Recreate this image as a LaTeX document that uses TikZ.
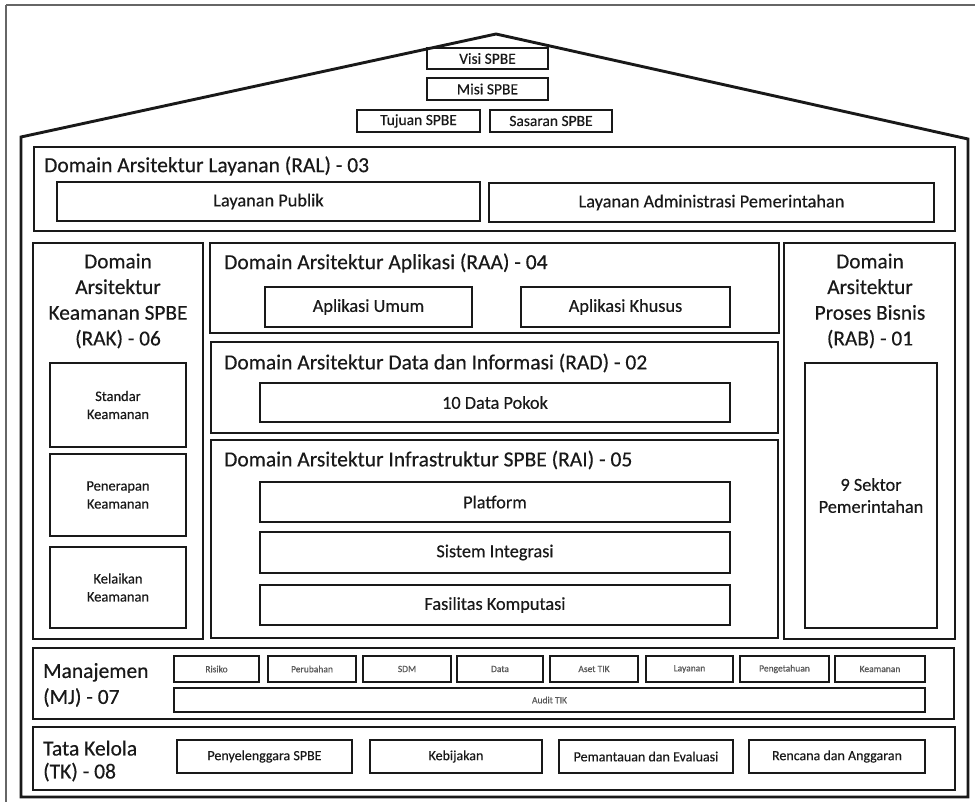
\documentclass[tikz,border=0pt]{standalone}
\usepackage{fontspec}
\setmainfont{Carlito}[FakeBold=0.35]
\newcommand{\fs}[2]{\fontsize{#1}{#2}\selectfont}
% box by its corners: name, x1, y1, x2, y2, style, text
\newcommand{\cornerbox}[7]{%
  \node[#6, minimum width={(#4-#2)*1pt}, minimum height={(#5-#3)*1pt}]
    (#1) at ({(#2+#4)/2},{(#3+#5)/2}) {#7};}
\begin{document}
\begin{tikzpicture}[x=1pt,y=-1pt,
  frameline/.style={draw=black!60, line width=1.8pt},
  houseline/.style={draw=black!90, line width=2.9pt, line join=miter},
  domainbox/.style={draw=black!90, line width=2.6pt, inner sep=0pt},
  itembox/.style={draw=black!90, line width=2.5pt, inner sep=0pt, align=center, text=black!90},
  roofitem/.style={itembox, font=\fs{15.5}{18}},
  mainitem/.style={itembox, font=\fs{18.3}{22}},
  smallitem/.style={itembox, font=\fs{14.5}{18}},
  mgmtitem/.style={itembox, line width=2.3pt, text=black!65, font=\fs{9.5}{12}},
  govitem/.style={itembox, font=\fs{14}{17}},
  domaintitle/.style={inner sep=0pt, anchor=west, text=black!90, font=\fs{21.5}{25}},
  coltitle/.style={inner sep=0pt, align=center, text=black!90, font=\fs{21.3}{25.7}},
]
\useasboundingbox (0,0) rectangle (975,802);
\fill[white] (0,0) rectangle (975,802);

% outer frame (top and left edge)
\draw[frameline] (6,5) -- (980,5);
\draw[frameline] (6,5) -- (6,810);

% house outline with roof
\draw[houseline] (21,797) -- (21,137) -- (496,34) -- (968,139) -- (968,797) -- cycle;

% roof: vision, mission, goals
\cornerbox{visi}{427}{48}{548}{69}{roofitem}{Visi SPBE}
\cornerbox{misi}{427}{78}{548}{100}{roofitem}{Misi SPBE}
\cornerbox{tujuan}{357}{110}{480}{132}{roofitem}{Tujuan SPBE}
\cornerbox{sasaran}{490}{110}{612}{132}{roofitem}{Sasaran SPBE}

% service domain
\cornerbox{ral}{34}{147}{955}{231}{domainbox}{}
\node[domaintitle] (raltitle) at (44,166) {Domain Arsitektur Layanan (RAL) - 03};
\cornerbox{publik}{57}{182}{480}{221}{mainitem}{Layanan Publik}
\cornerbox{admin}{489}{183}{934}{222}{mainitem}{Layanan Administrasi Pemerintahan}

% security domain (left column)
\cornerbox{rak}{33}{243}{203}{639}{domainbox}{}
\node[coltitle] (raktitle) at (118,301) {Domain\\Arsitektur\\Keamanan SPBE\\(RAK) - 06};
\cornerbox{standar}{50}{363}{186}{447}{smallitem}{Standar\\Keamanan}
\cornerbox{penerapan}{50}{454}{186}{536}{smallitem}{Penerapan\\Keamanan}
\cornerbox{kelaikan}{50}{547}{186}{628}{smallitem}{Kelaikan\\Keamanan}

% application domain
\cornerbox{raa}{210}{243}{779}{333}{domainbox}{}
\node[domaintitle] (raatitle) at (224,263) {Domain Arsitektur Aplikasi (RAA) - 04};
\cornerbox{umum}{265}{287}{472}{327}{mainitem}{Aplikasi Umum}
\cornerbox{khusus}{521}{287}{730}{327}{mainitem}{Aplikasi Khusus}

% data domain
\cornerbox{rad}{211}{342}{778}{433}{domainbox}{}
\node[domaintitle] (radtitle) at (224,363) {Domain Arsitektur Data dan Informasi (RAD) - 02};
\cornerbox{pokok}{260}{383}{730}{422}{mainitem}{10 Data Pokok}

% infrastructure domain
\cornerbox{rai}{211}{440}{778}{638}{domainbox}{}
\node[domaintitle] (raititle) at (224,460) {Domain Arsitektur Infrastruktur SPBE (RAI) - 05};
\cornerbox{platform}{260}{482}{730}{522}{mainitem}{Platform}
\cornerbox{integrasi}{260}{532}{730}{573}{mainitem}{Sistem Integrasi}
\cornerbox{komputasi}{260}{585}{730}{625}{mainitem}{Fasilitas Komputasi}

% business process domain (right column)
\cornerbox{rab}{784}{243}{955}{639}{domainbox}{}
\node[coltitle] (rabtitle) at (870,301) {Domain\\Arsitektur\\Proses Bisnis\\(RAB) - 01};
\cornerbox{sektor}{805}{363}{937}{628}{mainitem}{9 Sektor\\Pemerintahan}

% management
\cornerbox{mj}{33}{648}{954}{719}{domainbox}{}
\node[coltitle, anchor=west, align=left, font=\fs{21.5}{26}] (mjtitle) at (43,685) {Manajemen\\(MJ) - 07};
\cornerbox{risiko}{174}{656}{259}{682}{mgmtitem}{Risiko}
\cornerbox{perubahan}{268}{656}{356}{682}{mgmtitem}{Perubahan}
\cornerbox{sdm}{363}{656}{451}{682}{mgmtitem}{SDM}
\cornerbox{data}{457}{656}{543}{682}{mgmtitem}{Data}
\cornerbox{aset}{550}{656}{638}{682}{mgmtitem}{Aset TIK}
\cornerbox{layanan}{646}{656}{733}{682}{mgmtitem}{Layanan}
\cornerbox{pengetahuan}{740}{656}{829}{682}{mgmtitem}{Pengetahuan}
\cornerbox{keamanan}{835}{656}{925}{682}{mgmtitem}{Keamanan}
\cornerbox{audit}{174}{688}{925}{712}{mgmtitem}{Audit TIK}

% governance
\cornerbox{tk}{33}{727}{955}{790}{domainbox}{}
\node[coltitle, anchor=west, align=left, font=\fs{21.5}{23}] (tktitle) at (43,761) {Tata Kelola\\(TK) - 08};
\cornerbox{penyelenggara}{177}{740}{352}{773}{govitem}{Penyelenggara SPBE}
\cornerbox{kebijakan}{370}{740}{542}{773}{govitem}{Kebijakan}
\cornerbox{pemantauan}{559}{740}{733}{773}{govitem}{Pemantauan dan Evaluasi}
\cornerbox{rencana}{749}{740}{925}{773}{govitem}{Rencana dan Anggaran}
\end{tikzpicture}
\end{document}
